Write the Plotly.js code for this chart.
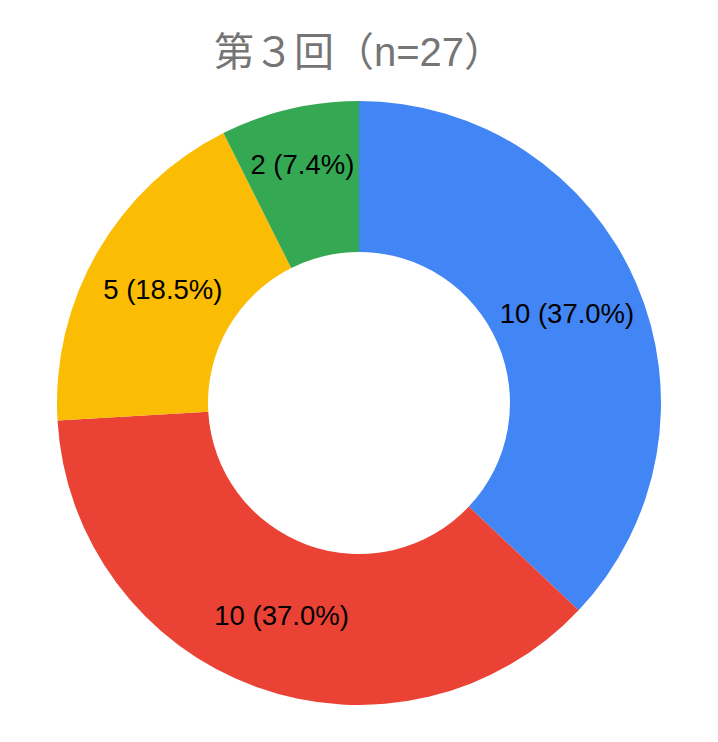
<!DOCTYPE html>
<html>
<head>
<meta charset="utf-8">
<script src="https://cdn.plot.ly/plotly-3.0.1.min.js"></script>
<style>html,body{margin:0;padding:0;background:#fff;}#chart{width:718px;height:742px;}</style>
</head>
<body>
<div id="chart"></div>
<script>
const categories = ["選択肢A", "選択肢B", "選択肢C", "選択肢D"];
const values = [10, 10, 5, 2];
const colors = ["#4285F4", "#EA4335", "#FBBC04", "#34A853"];
const titleText = "第３回（n=27）";

const trace = {
  type: "pie",
  labels: categories,
  values: values,
  hole: 0.5,
  sort: false,
  direction: "clockwise",
  rotation: 0,
  marker: {colors: colors, line: {width: 0}},
  texttemplate: "%{value} (%{percent:.1%})",
  textposition: "inside",
  insidetextorientation: "horizontal",
  textfont: {family: "Liberation Sans, Arial, sans-serif", size: 27.5, color: "#000000"},
  hoverinfo: "none",
  domain: {x: [57/718, 661/718], y: [1 - 706/742, 1 - 100/742]}
};

const layout = {
  width: 718,
  height: 742,
  margin: {l: 0, r: 0, t: 0, b: 0},
  showlegend: false,
  paper_bgcolor: "#ffffff",
  uniformtext: {minsize: 27.5, mode: "show"},
  title: {
    text: titleText,
    x: 0.5,
    xanchor: "center",
    y: 1 - 52/742,
    yanchor: "middle",
    yref: "container",
    font: {family: "Liberation Sans, Noto Sans CJK JP, sans-serif", size: 40, color: "#757575"}
  }
};

Plotly.newPlot("chart", [trace], layout, {displayModeBar: false, staticPlot: true});
</script>
</body>
</html>
